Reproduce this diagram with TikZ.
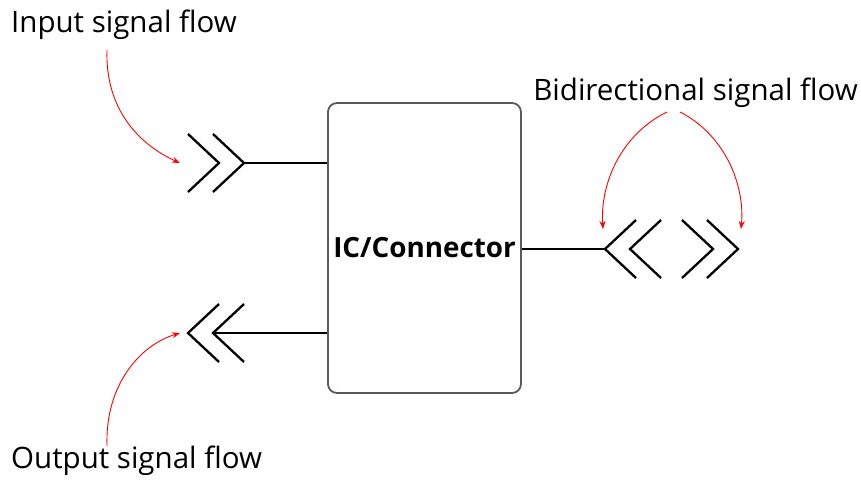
\documentclass[tikz,border=0pt]{standalone}
\usepackage{fontspec}
\setmainfont{Open Sans}
\usetikzlibrary{arrows.meta}
\definecolor{boxgray}{HTML}{5A5A5A}
\tikzset{
  chev/.style={line width=2.3pt, black, line cap=butt, line join=miter},
  wire/.style={line width=1.2pt, black},
  flowarrow/.style={red, line width=0.9pt, -{Stealth[length=8pt,width=6pt]}},
  label/.style={font=\fontsize{29.5}{34}\selectfont, inner sep=0pt},
}
\begin{document}
\begin{tikzpicture}[x=1pt, y=-1pt]
\useasboundingbox (0,0) rectangle (861,479);

% central block
\node[draw=boxgray, line width=1.8pt, rounded corners=9pt, minimum width=193pt, minimum height=290pt, inner sep=0pt,
      font=\fontsize{27.8}{32}\selectfont\bfseries] (box) at (424.5,248) {IC/Connector};

% input chevrons (pointing right)
\coordinate (inA) at (219,163);
\coordinate (inB) at (244,163);
\draw[chev] (188,134) -- (inA) -- (188,192);
\draw[chev] (213,134) -- (inB) -- (213,192);
\draw[wire] (inB) -- (inB -| box.west);

% output chevrons (pointing left)
\coordinate (outA) at (188,333);
\coordinate (outB) at (213,333);
\draw[chev] (219,304) -- (outA) -- (219,362);
\draw[chev] (244,304) -- (outB) -- (244,362);
\draw[wire] (outB) -- (outB -| box.west);

% bidirectional chevrons
\coordinate (biA) at (605,249);
\coordinate (biB) at (630,249);
\coordinate (biC) at (713,249);
\coordinate (biD) at (738,249);
\draw[chev] (636,220) -- (biA) -- (636,278);
\draw[chev] (661,220) -- (biB) -- (661,278);
\draw[chev] (682,220) -- (biC) -- (682,278);
\draw[chev] (707,220) -- (biD) -- (707,278);
\draw[wire] (biA) -- (biA -| box.east);

% labels
\node[label, anchor=west] (inlbl) at (11,25) {Input signal flow};
\node[label, anchor=west] (outlbl) at (11,461) {Output signal flow};
\node[label, anchor=east] (bilbl) at (858,93) {Bidirectional signal flow};

% annotation arrows
\coordinate (inlblEnd) at (107,50);
\coordinate (outlblEnd) at (107,446);
\coordinate (bilblL) at (667,112);
\coordinate (bilblR) at (680,112);
\coordinate (inTip) at (180,163);
\coordinate (outTip) at (180,333);
\coordinate (biTipL) at (603,229);
\coordinate (biTipR) at (741,229);
\draw[flowarrow] (inlblEnd) .. controls (105,110) and (140,145) .. (inTip);
\draw[flowarrow] (outlblEnd) .. controls (105,385) and (140,345) .. (outTip);
\draw[flowarrow] (bilblL) .. controls (620,135) and (600,185) .. (biTipL);
\draw[flowarrow] (bilblR) .. controls (725,135) and (745,185) .. (biTipR);
\end{tikzpicture}
\end{document}
